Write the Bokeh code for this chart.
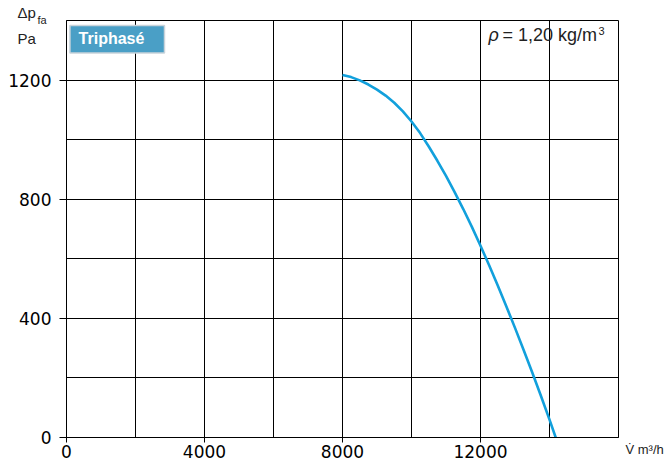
from bokeh.plotting import figure
from bokeh.models import FixedTicker, Label, Range1d
from bokeh.embed import file_html
from bokeh.resources import INLINE

# data
flow = [8000, 8250, 8500, 8750, 9000, 9250, 9500, 9750, 10000, 10250, 10500, 10750,
        11000, 11250, 11500, 11750, 12000, 12250, 12500, 12750, 13000, 13250, 13500,
        13750, 14000, 14180]
pressure = [1217, 1210, 1199, 1185, 1168, 1148, 1124, 1095, 1061, 1022, 977, 929,
            878, 824, 767, 707, 644, 578, 510, 440, 368, 294, 218, 140, 60, 0]
x_ticks = [0, 4000, 8000, 12000]
y_ticks = [0, 400, 800, 1200]
x_grid = [0, 2000, 4000, 6000, 8000, 10000, 12000, 14000, 16000]
y_grid = [0, 200, 400, 600, 800, 1000, 1200, 1400]

p = figure(width=665, height=467, output_backend="svg", toolbar_location=None,
           x_range=Range1d(0, 16000), y_range=Range1d(0, 1400),
           min_border_left=66, min_border_right=47, min_border_top=20, min_border_bottom=30)

p.outline_line_color = "black"
p.outline_line_width = 1
p.background_fill_color = "white"
p.border_fill_color = "white"

p.xaxis.ticker = FixedTicker(ticks=x_ticks)
p.yaxis.ticker = FixedTicker(ticks=y_ticks)
p.xgrid.ticker = FixedTicker(ticks=x_grid)
p.ygrid.ticker = FixedTicker(ticks=y_grid)
for g in (p.xgrid, p.ygrid):
    g.grid_line_color = "black"
    g.grid_line_width = 1
    g.grid_line_alpha = 1.0

for ax in (p.xaxis, p.yaxis):
    ax.axis_line_color = "black"
    ax.major_tick_line_color = "black"
    ax.minor_tick_line_color = None
    ax.major_tick_in = 0
    ax.major_label_text_font = "DejaVu Sans"
    ax.major_label_text_font_size = "17px"
    ax.major_label_text_color = "black"
p.xaxis.major_tick_out = 5
p.xaxis.major_label_standoff = 2
p.yaxis.major_tick_out = 7
p.yaxis.major_label_standoff = 8

# curve
p.line(flow, pressure, line_color="#12a0dc", line_width=2.6)

# Triphasé box
p.quad(left=[100], right=[2840], bottom=[1291], top=[1383],
       fill_color="#4a9fc6", line_color="#c9d3da", line_width=1.5)
p.add_layout(Label(x=350, y=1311, text="Triphasé", text_color="white",
                   text_font="Liberation Sans", text_font_style="bold",
                   text_font_size="16px"))

# rho annotation
p.add_layout(Label(x=12232, y=1318, text="ρ", text_font="Liberation Sans",
                   text_font_style="italic", text_font_size="18px", text_color="#222222"))
p.add_layout(Label(x=12638, y=1318, text="= 1,20 kg/m", text_font="Liberation Sans",
                   text_font_size="18px", text_color="#222222"))
p.add_layout(Label(x=15420, y=1352, text="3", text_font="Liberation Sans",
                   text_font_size="11px", text_color="#222222"))

# texts outside the frame: placed in side panels so that they are not clipped
p.add_layout(Label(x=-1420, y=1398, text="Δp", text_font="Liberation Sans",
                   text_font_size="15px", text_color="#222222"), "right")
p.add_layout(Label(x=-841, y=1381, text="fa", text_font="Liberation Sans",
                   text_font_size="11px", text_color="#222222"), "right")
p.add_layout(Label(x=-1420, y=1311, text="Pa", text_font="Liberation Sans",
                   text_font_size="15px", text_color="#222222"), "right")
p.add_layout(Label(x=16203, y=-66, text="V̇ m³/h", text_font="Liberation Sans",
                   text_font_size="13px", text_color="#222222"), "above")

open("out.html", "w").write(file_html(p, INLINE))
